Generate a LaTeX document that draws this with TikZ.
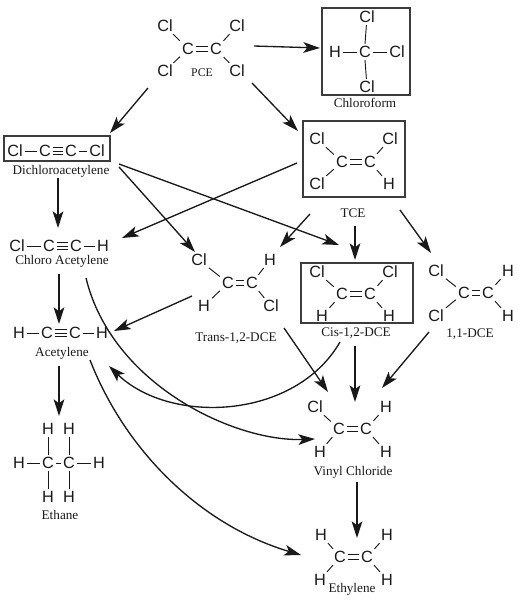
\documentclass[tikz,border=0pt]{standalone}
\usepackage{fontspec}
\setmainfont{Liberation Serif}
\newfontfamily\atomfont{Liberation Sans}
\usetikzlibrary{arrows.meta}
\definecolor{ink}{gray}{0.1}
\tikzset{
  x=0.75pt,y=-0.75pt,
  atom/.style={inner sep=1.5pt,text=ink,font=\atomfont\fontsize{12.2}{13}\selectfont,text height=8.8pt,text depth=0pt},
  caption/.style={inner sep=0pt,text=ink,font=\fontsize{9.9}{11}\selectfont},
  bond/.style={draw=ink,line width=0.7pt},
  frame/.style={draw=ink!85,line width=1.1pt},
  react/.style={draw=ink,line width=1pt,-{Stealth[length=12.5pt,width=8pt,inset=3pt]}},
}
\newcommand{\ethylenebonds}[1]{%
  \draw[bond] ([yshift=2pt]#1a.east) -- ([yshift=2pt]#1b.west);
  \draw[bond] ([yshift=-2pt]#1a.east) -- ([yshift=-2pt]#1b.west);
  \draw[bond] (#1a) -- (#1tl);
  \draw[bond] (#1a) -- (#1bl);
  \draw[bond] (#1b) -- (#1tr);
  \draw[bond] (#1b) -- (#1br);
}
\newcommand{\triplebond}[2]{%
  \draw[bond] (#1.east) -- (#2.west);
  \draw[bond] ([yshift=2.3pt]#1.east) -- ([yshift=2.3pt]#2.west);
  \draw[bond] ([yshift=-2.3pt]#1.east) -- ([yshift=-2.3pt]#2.west);
}
\newcommand{\reaction}[3]{%
  \coordinate (#1s) at (#2);
  \coordinate (#1e) at (#3);
  \draw[react] (#1s) -- (#1e);
}
\begin{document}
\begin{tikzpicture}
\useasboundingbox (0,0) rectangle (518,604);
% PCE
\node[atom] (pcetl) at (165,26) {Cl};
\node[atom] (pcetr) at (237,26) {Cl};
\node[atom] (pcea) at (188,49) {C};
\node[atom] (pceb) at (216,49) {C};
\node[atom] (pcebl) at (165,71) {Cl};
\node[atom] (pcebr) at (237,71) {Cl};
\ethylenebonds{pce}
\node[caption,font=\fontsize{8.8}{10}\selectfont] (pcelabel) at (202,73) {PCE};
% Chloroform
\node[frame,minimum width=66pt,minimum height=65.25pt,inner sep=0pt] (cfbox) at (366,51.5) {};
\node[atom] (cft) at (367,17) {Cl};
\node[atom] (cfl) at (335,52) {H};
\node[atom] (cfc) at (365,52) {C};
\node[atom] (cfr) at (397,52) {Cl};
\node[atom] (cfb) at (367,87) {Cl};
\draw[bond] (cfc) -- (cfl);
\draw[bond] (cfc) -- (cfr);
\draw[bond] (cfc.north) -- (cft);
\draw[bond] (cfc.south) -- (cfb);
\node[caption] (cflabel) at (365,103) {Chloroform};
% TCE
\node[frame,minimum width=76.5pt,minimum height=57pt,inner sep=0pt] (tcebox) at (354,159) {};
\node[atom] (tcetl) at (317,139) {Cl};
\node[atom] (tcetr) at (390,139) {Cl};
\node[atom] (tcea) at (342,162) {C};
\node[atom] (tceb) at (370,162) {C};
\node[atom] (tcebl) at (317,184) {Cl};
\node[atom] (tcebr) at (389,184) {H};
\ethylenebonds{tce}
\node[caption] (tcelabel) at (353,213) {TCE};
% Cis
\node[frame,minimum width=84pt,minimum height=45pt,inner sep=0pt] (cisbox) at (357,293) {};
\node[atom] (cistl) at (317,272) {Cl};
\node[atom] (cistr) at (390,272) {Cl};
\node[atom] (cisa) at (342,294) {C};
\node[atom] (cisb) at (370,294) {C};
\node[atom] (cisbl) at (322,316) {H};
\node[atom] (cisbr) at (389,316) {H};
\ethylenebonds{cis}
\node[caption] (cislabel) at (356,333) {Cis-1,2-DCE};
% 1,1-DCE
\node[atom] (ddtl) at (436,271) {Cl};
\node[atom] (ddtr) at (508,271) {H};
\node[atom] (dda) at (464,293) {C};
\node[atom] (ddb) at (488,293) {C};
\node[atom] (ddbl) at (436,316) {Cl};
\node[atom] (ddbr) at (508,316) {H};
\ethylenebonds{dd}
\node[caption] (ddlabel) at (470,334) {1,1-DCE};
% Trans
\node[atom] (trtl) at (199,260) {Cl};
\node[atom] (trtr) at (270,260) {H};
\node[atom] (tra) at (228,283) {C};
\node[atom] (trb) at (252,283) {C};
\node[atom] (trbl) at (204,306) {H};
\node[atom] (trbr) at (271,306) {Cl};
\ethylenebonds{tr}
\node[caption] (trlabel) at (236,338) {Trans-1,2-DCE};
% Dichloroacetylene
\node[frame,minimum width=79.5pt,minimum height=18.75pt,inner sep=0pt] (dabox) at (57,148.5) {};
\node[atom] (daa) at (15,151) {Cl};
\node[atom] (dab) at (45,151) {C};
\node[atom] (dac) at (71,151) {C};
\node[atom] (dad) at (97,151) {Cl};
\draw[bond] (daa) -- (dab);
\triplebond{dab}{dac}
\draw[bond] (dac) -- (dad);
\node[caption] (dalabel) at (61,171) {Dichloroacetylene};
% Chloro Acetylene
\node[atom] (caa) at (17,246) {Cl};
\node[atom] (cab) at (49,246) {C};
\node[atom] (cac) at (76,246) {C};
\node[atom] (cad) at (103,246) {H};
\draw[bond] (caa) -- (cab);
\triplebond{cab}{cac}
\draw[bond] (cac) -- (cad);
\node[caption] (calabel) at (62,261) {Chloro Acetylene};
% Acetylene
\node[atom] (aca) at (19,333) {H};
\node[atom] (acb) at (47,333) {C};
\node[atom] (acc) at (75,333) {C};
\node[atom] (acd) at (102,333) {H};
\draw[bond] (aca) -- (acb);
\triplebond{acb}{acc}
\draw[bond] (acc) -- (acd);
\node[caption] (aclabel) at (62,353) {Acetylene};
% Ethane
\node[atom] (ettl) at (48,429) {H};
\node[atom] (ettr) at (69,429) {H};
\node[atom] (etl) at (19,463) {H};
\node[atom] (eta) at (48,463) {C};
\node[atom] (etb) at (69,463) {C};
\node[atom] (etr) at (99,463) {H};
\node[atom] (etbl) at (48,497) {H};
\node[atom] (etbr) at (69,497) {H};
\draw[bond] (etl) -- (eta);
\draw[bond] (eta) -- (etb);
\draw[bond] (etb) -- (etr);
\draw[bond] (eta) -- (ettl);
\draw[bond] (etb) -- (ettr);
\draw[bond] (eta) -- (etbl);
\draw[bond] (etb) -- (etbr);
\node[caption] (etlabel) at (60,515) {Ethane};
% Vinyl chloride
\node[atom] (vctl) at (315,407) {Cl};
\node[atom] (vctr) at (386,407) {H};
\node[atom] (vca) at (339,429) {C};
\node[atom] (vcb) at (366,429) {C};
\node[atom] (vcbl) at (320,452) {H};
\node[atom] (vcbr) at (386,452) {H};
\ethylenebonds{vc}
\node[caption] (vclabel) at (353,472) {Vinyl Chloride};
% Ethylene
\node[atom] (eytl) at (321,535) {H};
\node[atom] (eytr) at (387,535) {H};
\node[atom] (eya) at (340,557) {C};
\node[atom] (eyb) at (367,557) {C};
\node[atom] (eybl) at (320,580) {H};
\node[atom] (eybr) at (387,580) {H};
\ethylenebonds{ey}
\node[caption] (eylabel) at (352,589) {Ethylene};
% Straight reactions
\reaction{r1}{254,46}{320,48}
\reaction{r2}{148,88}{110,133}
\reaction{r3}{252,83}{298,131}
\reaction{r4}{297,163}{122,238}
\reaction{r5}{58,178}{58,228}
\reaction{r6}{119,167}{195,252}
\reaction{r7}{119,164}{339,245}
\reaction{r8}{310,214}{280,247}
\reaction{r9}{355,226}{355,260}
\reaction{r10}{400,210}{431,253}
\reaction{r11}{59,274}{59,324}
\reaction{r12}{192,296}{114,331}
\reaction{r13}{59,366}{59,416}
\reaction{r14}{284,328}{328,392}
\reaction{r15}{355,346}{355,402}
\reaction{r16}{429,332}{382,388}
\reaction{r17}{357,482}{357,538}
% Curved reactions
\coordinate (c1s) at (86,278);
\coordinate (c1e) at (315,439);
\draw[react] (c1s) .. controls (112,385) and (235,442) .. (c1e);
\coordinate (c2s) at (340,342);
\coordinate (c2e) at (109,366);
\draw[react] (c2s) .. controls (295,420) and (170,425) .. (c2e);
\coordinate (c3s) at (90,360);
\coordinate (c3e) at (301,555);
\draw[react] (c3s) .. controls (125,450) and (200,525) .. (c3e);
\end{tikzpicture}
\end{document}
